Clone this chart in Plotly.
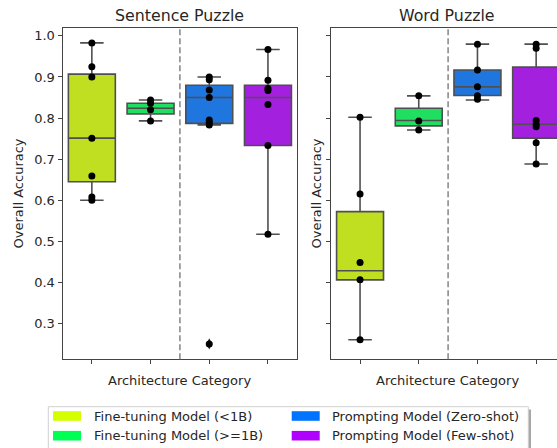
import plotly.graph_objects as go

# ---------------- data ----------------
categories = ["Fine-tuning Model (<1B)", "Fine-tuning Model (>=1B)",
              "Prompting Model (Zero-shot)", "Prompting Model (Few-shot)"]
panel_titles = ["Sentence Puzzle", "Word Puzzle"]

# Sentence Puzzle: individual model accuracies
sent_ft_small = [0.983, 0.925, 0.900, 0.751, 0.659, 0.608, 0.600]
sent_ft_large = [0.844, 0.836, 0.820, 0.793]
sent_zero = [0.900, 0.893, 0.868, 0.850, 0.795, 0.789, 0.783, 0.250]
sent_few = [0.967, 0.892, 0.872, 0.867, 0.833, 0.733, 0.517]
# Sentence Puzzle box statistics
sent_q1 = [0.645, 0.810, 0.787, 0.733]
sent_median = [0.751, 0.824, 0.850, 0.850]
sent_q3 = [0.907, 0.836, 0.880, 0.880]
sent_low = [0.600, 0.793, 0.783, 0.517]
sent_high = [0.983, 0.844, 0.900, 0.967]
sent_outliers = [[], [], [0.250], []]

# Word Puzzle: individual model accuracies
word_ft_small = [0.802, 0.615, 0.448, 0.406, 0.260]
word_ft_large = [0.854, 0.793, 0.771]
word_zero = [0.980, 0.917, 0.876, 0.854, 0.846]
word_few = [0.980, 0.970, 0.794, 0.785, 0.779, 0.740, 0.688]
# Word Puzzle box statistics
word_q1 = [0.406, 0.781, 0.855, 0.751]
word_median = [0.428, 0.794, 0.876, 0.785]
word_q3 = [0.572, 0.824, 0.917, 0.924]
word_low = [0.260, 0.771, 0.844, 0.688]
word_high = [0.802, 0.854, 0.980, 0.980]
word_outliers = [[], [], [], []]

y_ticks = [0.3, 0.4, 0.5, 0.6, 0.7, 0.8, 0.9, 1.0]

# ---------------- style ----------------
legend_colors = ["#d4ff00", "#00ff55", "#0073ff", "#b000ff"]
box_colors = ["#bfdf20", "#20df60", "#2076df", "#a420df"]
W, H = 557, 448
FONT = "DejaVu Sans"
EDGE = "#4f4f4f"
AX = "#444444"

def px(x):
    return x / W

def py(y):
    return 1 - y / H

fig = go.Figure()

panels = [
    dict(points=[sent_ft_small, sent_ft_large, sent_zero, sent_few],
         q1=sent_q1, med=sent_median, q3=sent_q3, lo=sent_low, hi=sent_high,
         out=sent_outliers, xa="x", ya="y"),
    dict(points=[word_ft_small, word_ft_large, word_zero, word_few],
         q1=word_q1, med=word_median, q3=word_q3, lo=word_low, hi=word_high,
         out=word_outliers, xa="x2", ya="y2"),
]

for p in panels:
    for i, cat in enumerate(categories):
        fig.add_trace(go.Box(
            x=[i], q1=[p["q1"][i]], median=[p["med"][i]], q3=[p["q3"][i]],
            lowerfence=[p["lo"][i]], upperfence=[p["hi"][i]],
            width=0.8, whiskerwidth=0.5, boxpoints=False,
            fillcolor=box_colors[i], line=dict(color=EDGE, width=1.6),
            xaxis=p["xa"], yaxis=p["ya"], showlegend=False, name=cat,
            hoverinfo="skip"))
    for i, cat in enumerate(categories):
        if p["out"][i]:
            fig.add_trace(go.Scatter(
                x=[i] * len(p["out"][i]), y=p["out"][i], mode="markers",
                marker=dict(symbol="diamond-tall", size=8, color="#222222"),
                xaxis=p["xa"], yaxis=p["ya"], showlegend=False, hoverinfo="skip"))
        fig.add_trace(go.Scatter(
            x=[i] * len(p["points"][i]), y=p["points"][i], mode="markers",
            marker=dict(size=7, color="black"),
            xaxis=p["xa"], yaxis=p["ya"], showlegend=False, name=cat))

# ---------------- axes ----------------
left_dom = [px(62.5), px(297.3)]
right_dom = [px(330.7), 1.0]
unit = (297.3 - 62.5) / 4
right_hi = -0.5 + (557 - 330.7) / unit
y_dom = [py(359.3), py(27.5)]
y_range = [0.2125, 1.0205]

common_x = dict(tickvals=[0, 1, 2, 3], showticklabels=False, ticks="outside",
                ticklen=4, tickwidth=1, tickcolor=AX, showline=True,
                linecolor=AX, linewidth=1, showgrid=False, zeroline=False)
common_y = dict(range=y_range, tickvals=y_ticks, tickformat=".1f", ticks="outside",
                ticklen=4, tickwidth=1, tickcolor=AX, showline=True,
                linecolor=AX, linewidth=1, showgrid=False, zeroline=False,
                tickfont=dict(family=FONT, size=13, color="#262626"))

fig.update_layout(
    width=W, height=H, margin=dict(l=0, r=0, t=0, b=0),
    paper_bgcolor="white", plot_bgcolor="white", boxmode="overlay",
    font=dict(family=FONT, size=13, color="#262626"),
    xaxis=dict(domain=left_dom, range=[-0.5, 3.5], mirror=True, anchor="y", **common_x),
    yaxis=dict(domain=y_dom, mirror=True, anchor="x", **common_y),
    xaxis2=dict(domain=right_dom, range=[-0.5, right_hi], mirror=True, anchor="y2", **common_x),
    yaxis2=dict(domain=y_dom, mirror=False, anchor="x2", showticklabels=False,
                **{k: v for k, v in common_y.items() if k != "tickfont"}),
    showlegend=False,
)

shapes = []
# dashed separators between fine-tuning and prompting groups
for xa in ["x", "x2"]:
    shapes.append(dict(type="line", xref=xa, yref=f"{'y' if xa == 'x' else 'y2'} domain",
                       x0=1.5, x1=1.5, y0=0, y1=1,
                       line=dict(color="#8c8c8c", width=1.6, dash="6px,3px")))

# legend (manual, two columns, clipped at the figure bottom)
shapes.append(dict(type="rect", xref="paper", yref="paper",
                   x0=px(51), x1=px(531), y0=py(470), y1=py(409.5),
                   fillcolor="#a8a8a8", line=dict(width=0), layer="above"))
shapes.append(dict(type="rect", xref="paper", yref="paper",
                   x0=px(48.3), x1=px(528.3), y0=py(470), y1=py(406.7),
                   fillcolor="white", line=dict(color="#d0d0d0", width=1), layer="above"))
annotations = []
legend_slots = [(53, 416), (53, 435.7), (291.7, 416), (291.7, 435.7)]
for i, cat in enumerate(categories):
    lx, ly = legend_slots[i]
    shapes.append(dict(type="rect", xref="paper", yref="paper",
                       x0=px(lx), x1=px(lx + 28), y0=py(ly + 4.8), y1=py(ly - 4.8),
                       fillcolor=legend_colors[i], line=dict(width=0), layer="above"))
    annotations.append(dict(text=cat, xref="paper", yref="paper",
                            x=px(lx + 38.7), y=py(ly), xanchor="left", yanchor="middle",
                            showarrow=False, font=dict(family=FONT, size=13, color="#262626")))

# titles and axis labels
centers = [(62.5 + 297.3) / 2, 447]
for c, t in zip(centers, panel_titles):
    annotations.append(dict(text=t, xref="paper", yref="paper", x=px(c), y=py(15),
                            xanchor="center", yanchor="middle", showarrow=False,
                            font=dict(family=FONT, size=15.8, color="#262626")))
    annotations.append(dict(text="Architecture Category", xref="paper", yref="paper",
                            x=px(c), y=py(380), xanchor="center", yanchor="middle",
                            showarrow=False, font=dict(family=FONT, size=13, color="#262626")))
for xpos in [18, 316]:
    annotations.append(dict(text="Overall Accuracy", xref="paper", yref="paper",
                            x=px(xpos), y=py((27.5 + 359.3) / 2), textangle=-90,
                            xanchor="center", yanchor="middle", showarrow=False,
                            font=dict(family=FONT, size=13, color="#262626")))

fig.update_layout(shapes=shapes, annotations=annotations)
fig.write_html("out.html", config={"displayModeBar": False},
               post_script="document.body.style.margin='0';document.body.style.overflow='hidden';")
